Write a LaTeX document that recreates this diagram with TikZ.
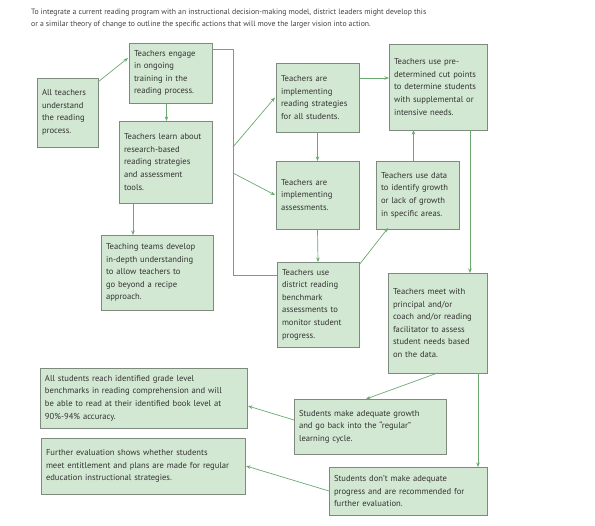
\documentclass[tikz,border=0pt]{standalone}
\usepackage{fontspec}
\setmainfont{PT Sans}
\usepackage{tikz}
\usetikzlibrary{arrows.meta, calc}

\definecolor{cardfill}{HTML}{D3E8D3}
\definecolor{cardline}{HTML}{7E8A7E}
\definecolor{flow}{HTML}{6AA86F}

\tikzset{
    card/.style 2 args={draw=cardline, fill=cardfill, line width=0.8pt, anchor=north west,
        align=left, inner xsep=5pt, inner ysep=3pt, text=black!80,
        font=\fontsize{8.6}{12.6}\selectfont,
        minimum width=#1pt, text width=#2pt, outer sep=0pt},
    arr/.style={draw=flow, line width=0.7pt, -{Stealth[length=4.5pt,width=3.5pt]}},
    wire/.style={draw=flow, line width=0.7pt}
}

\begin{document}
\begin{tikzpicture}[x=1pt, y=-1pt]
    \useasboundingbox (0,0) rectangle (595,526);
    % --- intro text ---
    \node[anchor=north west, align=left, inner sep=0pt, text=black!75,
          font=\fontsize{7.75}{12}\selectfont] (intro) at (31,9)
        {To integrate a current reading program with an instructional decision-making model, district leaders might develop this\\
         or a similar theory of change to outline the specific actions that will move the larger vision into action.};

    % --- left column ---
    \node[card={61}{51}, minimum height=69pt] (understand) at (37,78)
        {All teachers\\understand\\the reading\\process.};
    \node[card={83}{73}, minimum height=60pt] (engage) at (129,43)
        {Teachers engage\\in ongoing\\training in the\\reading process.};
    \node[card={93}{83}, minimum height=82pt] (learn) at (119,121)
        {Teachers learn about\\research-based\\reading strategies\\and assessment\\tools.};
    \node[card={112}{102}, minimum height=75pt] (teams) at (101,235)
        {Teaching teams develop\\in-depth understanding\\to allow teachers to\\go beyond a recipe\\approach.};

    % --- middle column ---
    \node[card={83}{73}, minimum height=69pt] (strategies) at (276,63)
        {Teachers are\\implementing\\reading strategies\\for all students.};
    \node[card={83}{73}, minimum height=68pt] (assess) at (276,161)
        {Teachers are\\implementing\\assessments.};
    \node[card={82}{72}, minimum height=85pt] (benchmark) at (277,262)
        {Teachers use\\district reading\\benchmark\\assessments to\\monitor student\\progress.};

    % --- right column ---
    \node[card={98}{88}, minimum height=86pt] (cutpoints) at (389,44)
        {Teachers use pre-\\determined cut points\\to determine students\\with supplemental or\\intensive needs.};
    \node[card={83}{73}, minimum height=68pt] (usedata) at (376,161)
        {Teachers use data\\to identify growth\\or lack of growth\\in specific areas.};
    \node[card={99}{89}, minimum height=100pt] (meet) at (388,273)
        {Teachers meet with\\principal and/or\\coach and/or reading\\facilitator to assess\\student needs based\\on the data.};

    % --- outcomes ---
    \node[card={152}{142}, minimum height=55pt] (growth) at (294,399)
        {Students make adequate growth\\and go back into the ``regular''\\learning cycle.};
    \node[card={158}{148}, minimum height=48pt] (nogrowth) at (329,467)
        {Students don't make adequate\\progress and are recommended for\\further evaluation.};
    \node[card={207}{197}, minimum height=60pt] (reach) at (40,368)
        {All students reach identified grade level\\benchmarks in reading comprehension and will\\be able to read at their identified book level at\\90\%-94\% accuracy.};
    \node[card={204}{194}, minimum height=56pt] (further) at (41,438)
        {Further evaluation shows whether students\\meet entitlement and plans are made for regular\\education instructional strategies.};

    % --- connectors ---
    \coordinate (bus) at (233,49);
    \draw[arr] ([yshift=-4pt]understand.north east) -- ([xshift=-1pt,yshift=-15pt]engage.north west);
    \draw[arr] ([xshift=-4pt]engage.south) -- ([xshift=-4pt]engage.south |- learn.north);
    \draw[arr] ([xshift=14pt]learn.south west) -- ([xshift=14pt]learn.south west |- teams.north);
    \draw[wire] ([yshift=-6pt]engage.north east) -- (bus) -- (bus |- 0,275) -- ([yshift=-13pt]benchmark.north west);
    \draw[arr] (bus |- 0,147) -- ([xshift=-1pt]strategies.west);
    \draw[arr] (bus |- 0,173) -- ([xshift=-1pt]assess.west);
    \draw[arr] (strategies.south) -- (assess.north);
    \draw[arr] (assess.south) -- (benchmark.north);
    \draw[arr] ([yshift=-15pt]strategies.north east) -- ([yshift=-15pt]strategies.north east -| cutpoints.west);
    \draw[arr] ([xshift=-4pt]usedata.north) -- ([xshift=-4pt]usedata.north |- cutpoints.south);
    \draw[arr] ([yshift=-3pt]benchmark.north east) -- ([xshift=12pt,yshift=1pt]usedata.south west);
    \draw[arr] ([xshift=-17pt]cutpoints.south east) -- ([xshift=-17pt]cutpoints.south east |- meet.north);
    \draw[arr] (meet.south) -- ([xshift=-4pt]growth.north);
    \draw[arr] ([xshift=-9pt]meet.south east) -- ([xshift=-9pt]meet.south east |- nogrowth.north);
    \draw[arr] ([yshift=-21pt]growth.north west) -- ([xshift=1pt,yshift=-38pt]reach.north east);
    \draw[arr] (nogrowth.west) -- ([xshift=1pt]further.east);
\end{tikzpicture}
\end{document}
